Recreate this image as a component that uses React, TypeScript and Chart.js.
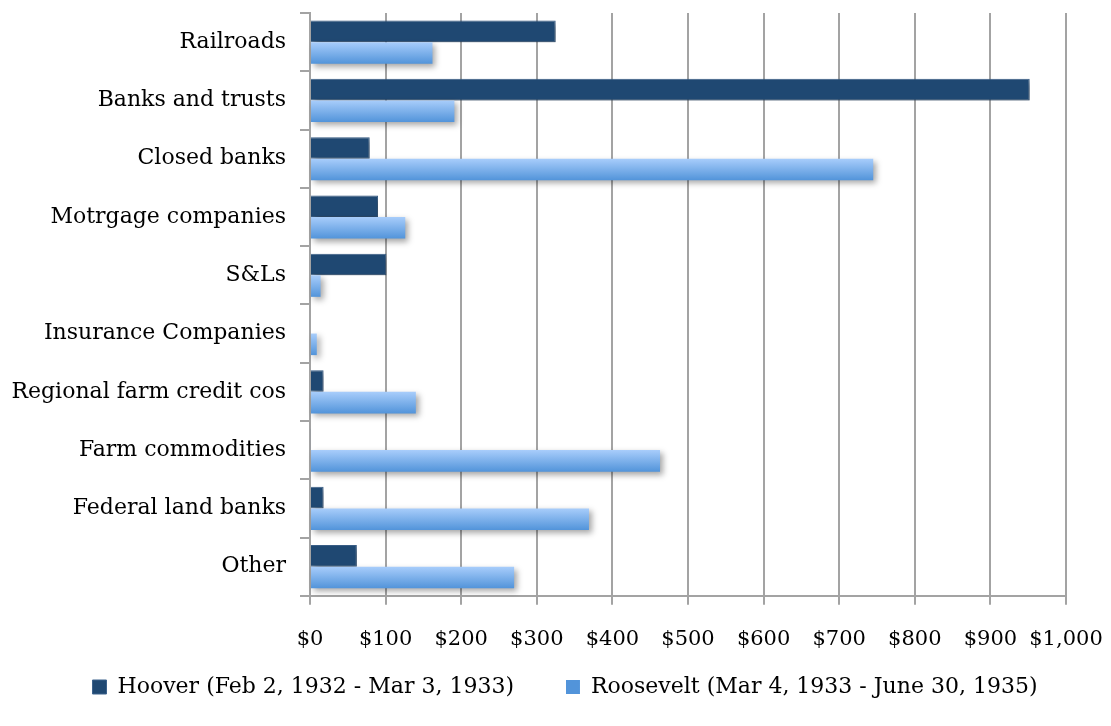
import React, { useEffect, useRef } from "react";
import { Chart, registerables } from "chart.js";

Chart.register(...registerables);

const categories = [
  "Railroads",
  "Banks and trusts",
  "Closed banks",
  "Motrgage companies",
  "S&Ls",
  "Insurance Companies",
  "Regional farm credit cos",
  "Farm commodities",
  "Federal land banks",
  "Other",
];
const hooverValues = [325, 952, 79, 90, 101, 0, 18, 1, 18, 62];
const rooseveltValues = [162, 191, 745, 126, 14, 9, 140, 463, 369, 270];
const seriesNames = [
  "Hoover (Feb 2, 1932 - Mar 3, 1933)",
  "Roosevelt (Mar 4, 1933 - June 30, 1935)",
];

const FONT = "'DejaVu Serif', serif";
const GRID = "#a3a3a3";
const CAT_PCT = 0.74;

let deferring = false;
const shadowPlugin = {
  id: "barShadow",
  afterLayout(chart: any) {
    const lg = chart.legend;
    if (lg) {
      lg.left += 32;
      lg.right += 32;
      lg.top -= 50;
      lg.bottom -= 50;
    }
  },
  beforeDatasetsDraw(chart: any) {
    const ctx = chart.ctx;
    ctx.save();
    ctx.shadowColor = "rgba(0,0,0,0.35)";
    ctx.shadowBlur = 6;
    ctx.shadowOffsetX = 3;
    ctx.shadowOffsetY = 3;
  },
  beforeDatasetDraw(chart: any, args: any) {
    if (args.index === 1 && !deferring) return false;
    return true;
  },
  afterDatasetsDraw(chart: any) {
    const meta = chart.getDatasetMeta(1);
    if (meta && !meta.hidden) {
      deferring = true;
      meta.controller.draw();
      deferring = false;
    }
    chart.ctx.restore();
  },
};

function rooseveltFill(context: any) {
  const chart = context.chart;
  const area = chart.chartArea;
  const yScale = chart.scales && chart.scales.y;
  if (!area || !yScale || context.dataIndex === undefined) return "#7fb2ee";
  const catH = (area.bottom - area.top) / categories.length;
  const center = yScale.getPixelForValue(context.dataIndex);
  const top = center;
  const bottom = center + (catH * CAT_PCT) / 2;
  const g = chart.ctx.createLinearGradient(0, top, 0, bottom);
  g.addColorStop(0, "#a8cdfb");
  g.addColorStop(1, "#5294da");
  return g;
}

export default function App() {
  const ref = useRef<HTMLCanvasElement>(null);
  useEffect(() => {
    if (!ref.current) return;
    const chart = new Chart(ref.current, {
      type: "bar",
      data: {
        labels: categories,
        datasets: [
          {
            label: seriesNames[0],
            data: hooverValues,
            backgroundColor: "#1f4872",
            borderColor: "#3c628c",
            borderWidth: 1,
          },
          {
            label: seriesNames[1],
            data: rooseveltValues,
            backgroundColor: rooseveltFill as any,
            borderWidth: 0,
          },
        ],
      },
      plugins: [shadowPlugin],
      options: {
        indexAxis: "y",
        responsive: false,
        animation: false,
        layout: { padding: { top: 0, right: 45, bottom: -32, left: 0 } },
        datasets: {
          bar: { categoryPercentage: CAT_PCT, barPercentage: 1 },
        },
        scales: {
          x: {
            min: 0,
            max: 1000,
            ticks: {
              stepSize: 100,
              color: "#000",
              font: { family: FONT, size: 21 },
              padding: 22,
              maxRotation: 0,
              minRotation: 0,
              autoSkip: false,
              callback: (v: any) => "$" + Number(v).toLocaleString("en-US"),
            },
            grid: { color: GRID, lineWidth: 2, tickLength: 9 },
            border: { color: GRID, width: 2 },
            afterFit: (s: any) => {
              s.paddingLeft = 0;
              s.paddingRight = 0;
            },
          },
          y: {
            ticks: {
              color: "#000",
              font: { family: FONT, size: 22 },
              padding: 14,
            },
            grid: {
              drawOnChartArea: false,
              color: GRID,
              lineWidth: 2,
              tickLength: 10,
              offset: true,
            },
            border: { color: GRID, width: 2 },
            afterFit: (s: any) => {
              s.width = 310;
              s.paddingTop = 13;
              s.paddingBottom = 0;
            },
          },
        },
        plugins: {
          legend: {
            position: "bottom",
            labels: {
              color: "#000",
              font: { family: FONT, size: 22 },
              boxWidth: 14,
              boxHeight: 14,
              padding: 52,
            },
          },
          tooltip: { enabled: false },
        },
      },
    });
    return () => chart.destroy();
  }, []);
  return (
    <div style={{ position: "fixed", left: 0, top: 0, width: 1111, height: 726, background: "#fff" }}>
      <canvas ref={ref} width={1111} height={726} style={{ width: 1111, height: 726 }} />
    </div>
  );
}
